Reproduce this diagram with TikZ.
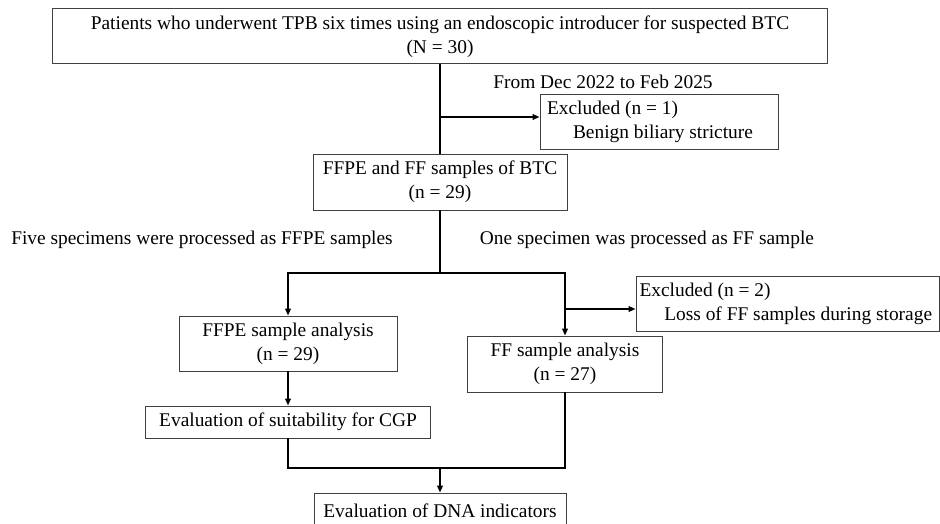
\documentclass[tikz,border=0pt]{standalone}
\usepackage{fontspec}
\setmainfont{Liberation Serif}
\usetikzlibrary{arrows.meta,positioning,calc}

\begin{document}
\begin{tikzpicture}[
  font=\fontsize{13.8}{17}\selectfont,
  >={Triangle[length=5pt,width=4pt]},
  flowbox/.style={
    draw=black!75, line width=0.6pt, align=center,
    inner sep=2pt
  },
  exclbox/.style={
    flowbox, align=flush left, inner xsep=5pt
  },
  notelabel/.style={
    inner sep=0pt
  },
  flowline/.style={
    line width=1.2pt
  },
  flowarrow/.style={
    ->, flowline
  }
]

\useasboundingbox (0,0) rectangle (23.5,-13.075);

% Column positions
\def\posMain{11.0}
\def\posLeft{7.2}
\def\posRight{14.125}

% ===== Enrolled patients =====
\node[flowbox, minimum width=19.375cm, minimum height=1.375cm] (patients) at (\posMain,-0.91)
  {Patients who underwent TPB six times using an endoscopic introducer for suspected BTC\\(N = 30)};
\node[notelabel] (period) at (15.075,-2.05) {From Dec 2022 to Feb 2025};

% ===== First exclusion =====
\node[exclbox, text width=5.6cm, minimum height=1.375cm] (excl1) at (16.475,-3.04)
  {Excluded (n = 1)\\\hspace*{0.65cm}Benign biliary stricture};

% ===== Samples of BTC =====
\node[flowbox, minimum width=6.35cm, minimum height=1.4cm] (mixed) at (\posMain,-4.55)
  {FFPE and FF samples of BTC\\(n = 29)};
\node[notelabel] (ffpenote) at (5.05,-6.0) {Five specimens were processed as FFPE samples};
\node[notelabel] (ffnote) at (16.175,-6.0) {One specimen was processed as FF sample};

% ===== Second exclusion =====
\node[exclbox, text width=7.4cm, inner xsep=0.0875cm, minimum height=1.375cm] (excl2) at (19.6875,-7.5875)
  {Excluded (n = 2)\\\hspace*{0.62cm}Loss of FF samples during storage};

% ===== Analyses =====
\node[flowbox, minimum width=5.45cm, minimum height=1.375cm] (ffpe) at (\posLeft,-8.5875)
  {FFPE sample analysis\\(n = 29)};
\node[flowbox, minimum width=4.875cm, minimum height=1.4cm] (ff) at (\posRight,-9.1)
  {FF sample analysis\\(n = 27)};
\node[flowbox, minimum width=7.125cm, minimum height=0.8cm] (cgp) at (\posLeft,-10.55)
  {Evaluation of suitability for CGP};
\node[flowbox, minimum width=6.3cm, minimum height=0.9cm] (dna) at (\posMain,-12.775)
  {Evaluation of DNA indicators};

% Branch points
\coordinate (cut1) at (\posMain,-2.925);
\coordinate (split) at (\posMain,-6.825);
\coordinate (cut2) at (\posRight,-7.725);
\coordinate (join) at (\posMain,-11.7);

% Connectors
\draw[flowline] (patients) -- (mixed);
\draw[flowarrow] (cut1) -- (cut1 -| excl1.west);
\draw[flowline] (mixed) -- (split);
\draw[flowarrow] (split) -| (ffpe);
\draw[flowarrow] (split) -| (ff);
\draw[flowarrow] (cut2) -- (cut2 -| excl2.west);
\draw[flowarrow] (ffpe) -- (cgp);
\draw[flowline] (cgp) |- (join);
\draw[flowline] (ff) |- (join);
\draw[flowarrow] (join) -- (dna);

\end{tikzpicture}
\end{document}
